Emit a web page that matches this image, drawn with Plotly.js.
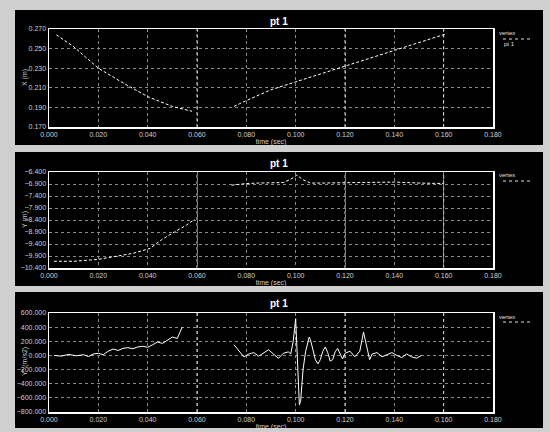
<!DOCTYPE html>
<html>
<head>
<meta charset="utf-8">
<script src="https://cdn.plot.ly/plotly-3.0.1.min.js"></script>
<style>html,body{margin:0;padding:0;background:#cfcfcf;}#chart{width:550px;height:432px;}</style>
</head>
<body>
<div id="chart"></div>
<script>
// ---- data ----
var xTicks = [0, 0.02, 0.04, 0.06, 0.08, 0.10, 0.12, 0.14, 0.16, 0.18];
var xTickLabels = ["0.000","0.020","0.040","0.060","0.080","0.100","0.120","0.140","0.160","0.180"];

// panel 1
var t1 = [0.003, 0.010, 0.020, 0.030, 0.040, 0.050, 0.058, null, 0.075, 0.080, 0.090, 0.100, 0.110, 0.120, 0.130, 0.140, 0.150, 0.161];
var y1 = [0.264, 0.252, 0.230, 0.215, 0.201, 0.191, 0.186, null, 0.191, 0.197, 0.208, 0.216, 0.224, 0.232, 0.240, 0.248, 0.256, 0.265];
var y1Ticks = [0.17, 0.19, 0.21, 0.23, 0.25, 0.27];

// panel 2
var t2 = [0.002, 0.010, 0.020, 0.0275, 0.034, 0.041, 0.046, 0.050, 0.0558, 0.059, null,
          0.074, 0.080, 0.085, 0.090, 0.095, 0.098, 0.1005, 0.103, 0.106, 0.110, 0.120, 0.130, 0.140, 0.150, 0.160];
var y2 = [-10.12, -10.12, -10.04, -9.90, -9.79, -9.58, -9.20, -8.95, -8.61, -8.37, null,
          -6.95, -6.88, -6.86, -6.85, -6.84, -6.70, -6.53, -6.72, -6.86, -6.86, -6.85, -6.84, -6.82, -6.86, -6.88];
var y2Ticks = [-10.4, -9.9, -9.4, -8.9, -8.4, -7.9, -7.4, -6.9, -6.4];

// panel 3
var t3 = [0.002, 0.005, 0.008, 0.011, 0.014, 0.016, 0.018, 0.020, 0.022, 0.024, 0.026, 0.028, 0.030, 0.032, 0.034,
          0.036, 0.038, 0.040, 0.042, 0.044, 0.046, 0.048, 0.050, 0.052, 0.054, null,
          0.075, 0.077, 0.079, 0.081, 0.083, 0.085, 0.087, 0.089, 0.091, 0.093, 0.095, 0.097, 0.098, 0.099,
          0.100, 0.1005, 0.101, 0.1015, 0.102, 0.103, 0.104, 0.105, 0.1055, 0.106, 0.107, 0.108, 0.109, 0.110,
          0.111, 0.112, 0.113, 0.114, 0.115, 0.116, 0.117, 0.118, 0.119, 0.120, 0.122, 0.124, 0.126, 0.1275,
          0.129, 0.130, 0.131, 0.133, 0.135, 0.137, 0.139, 0.141, 0.143, 0.145, 0.147, 0.149, 0.151];
var y3 = [0, -10, 15, -5, 10, -15, 20, 30, 10, 60, 90, 70, 100, 110, 95,
          120, 130, 115, 150, 190, 170, 220, 260, 240, 400, null,
          150, 60, -20, 20, 40, -10, 30, 80, 20, -40, 30, 50, 20, 200,
          520, 100, -300, -700, -650, -200, 50, 200, 260, 220, 80, -60, -120, -60,
          60, 120, 40, -80, -60, 50, 100, 20, -50, 30, 60, -20, 60, 330,
          100, -60, 20, 40, -20, 10, 40, 0, -30, 20, -20, -40, 0];
var y3Ticks = [-800, -600, -400, -200, 0, 200, 400, 600];

var panelTitles = ["pt 1", "pt 1", "pt 1"];
var yTitles = ["X (m)", "Y (m)", "Y'' (m/s2)"];
var xTitle = "time (sec)";
var legendTop = ["vertex", "vertex", "vertex"];
var legendBottom = ["pt 1", "", ""];

// ---- layout helpers ----
var H = 432;
function dom(top, bot) { return [1 - bot / H, 1 - top / H]; }
var doms = [dom(29, 127), dom(172, 268), dom(313, 412)];
var panels = [[10, 145], [152, 286], [292, 428]];
var fnt = {family: "Liberation Sans, Arial, sans-serif", size: 7, color: "#d0d0d0"};

function xax(anchor) {
  return {anchor: anchor, range: [0, 0.18], tickvals: xTicks, ticktext: xTickLabels, tickfont: fnt,
    showgrid: true, gridcolor: "#8a8a8a", griddash: "dot", gridwidth: 1, zeroline: false,
    showline: true, linecolor: "#ffffff", linewidth: 1.5, mirror: true, ticks: "",
    title: {text: xTitle, font: fnt, standoff: 2}, automargin: false};
}
function yax(anchor, d, rng, tv, fmt) {
  return {anchor: anchor, domain: d, range: rng, tickvals: tv, tickformat: fmt, tickfont: fnt,
    showgrid: true, gridcolor: "#8a8a8a", griddash: "dot", gridwidth: 1, zeroline: false,
    showline: true, linecolor: "#ffffff", linewidth: 1.5, mirror: true, ticks: "",
    automargin: false};
}

var traces = [
  {x: t1, y: y1, xaxis: "x", yaxis: "y", mode: "lines", line: {color: "#ffffff", width: 1, dash: "3px,2px"}, connectgaps: false, showlegend: false},
  {x: t2, y: y2, xaxis: "x2", yaxis: "y2", mode: "lines", line: {color: "#ffffff", width: 1, dash: "3px,2px"}, connectgaps: false, showlegend: false},
  {x: t3, y: y3, xaxis: "x3", yaxis: "y3", mode: "lines", line: {color: "#ffffff", width: 1}, connectgaps: false, showlegend: false}
];

var L = 49, R = 493, W = R - L;
function px(x) { return (x - L) / W; }
function py(y) { return 1 - y / H; }

var shapes = [], annotations = [];
panels.forEach(function (p, i) {
  shapes.push({type: "rect", xref: "paper", yref: "paper", x0: px(15), x1: px(543), y0: py(p[1]), y1: py(p[0]),
    fillcolor: "#000000", line: {width: 0}, layer: "below"});
  annotations.push({xref: "paper", yref: "paper", x: px(279), y: py(p[0] + 11), yanchor: "middle", text: "<b>" + panelTitles[i] + "</b>",
    showarrow: false, font: {family: "Liberation Sans, Arial, sans-serif", size: 10, color: "#ffffff"}});
});
// y axis titles
[[78, 0], [220, 1], [362, 2]].forEach(function (a) {
  annotations.push({xref: "paper", yref: "paper", x: px(19), y: py(a[0]), yanchor: "middle", text: yTitles[a[1]], textangle: -90,
    showarrow: false, font: fnt});
});
// vertical cursor lines
var ax = ["x", "x2", "x3"], ay = ["y", "y2", "y3"];
[0.06, 0.12, 0.16].forEach(function (v) {
  for (var i = 0; i < 3; i++) {
    shapes.push({type: "line", xref: ax[i], yref: ay[i] + " domain", x0: v, x1: v, y0: 0, y1: 1,
      line: {color: "#d8d8d8", width: 1, dash: "dot"}});
  }
});
// legends
var legY = [[33, 39, 44], [175, 181, 186], [317, 322, 327]];
var legFont = {family: "Liberation Sans, Arial, sans-serif", size: 6, color: "#e0e0e0"};
legY.forEach(function (ly, i) {
  annotations.push({xref: "paper", yref: "paper", x: px(517), y: py(ly[0]), yanchor: "middle", text: legendTop[i],
    showarrow: false, font: legFont});
  if (legendBottom[i]) {
    annotations.push({xref: "paper", yref: "paper", x: px(517), y: py(ly[2]), yanchor: "middle", text: legendBottom[i],
      showarrow: false, font: legFont});
  }
  shapes.push({type: "line", xref: "paper", yref: "paper", x0: px(503), x1: px(532), y0: py(ly[1]), y1: py(ly[1]),
    line: {color: "#e0e0e0", width: 1, dash: "dot"}});
});

var layout = {
  width: 550, height: 432,
  margin: {l: L, r: 550 - R, t: 0, b: 0},
  paper_bgcolor: "#cfcfcf", plot_bgcolor: "#000000",
  showlegend: false,
  xaxis: xax("y"), xaxis2: xax("y2"), xaxis3: xax("y3"),
  yaxis: yax("x", doms[0], [0.17, 0.27], y1Ticks, ".3f"),
  yaxis2: yax("x2", doms[1], [-10.4, -6.4], y2Ticks, ".3f"),
  yaxis3: yax("x3", doms[2], [-800, 600], y3Ticks, ".3f"),
  shapes: shapes, annotations: annotations
};

Plotly.newPlot("chart", traces, layout, {displayModeBar: false, staticPlot: true});
</script>
</body>
</html>
